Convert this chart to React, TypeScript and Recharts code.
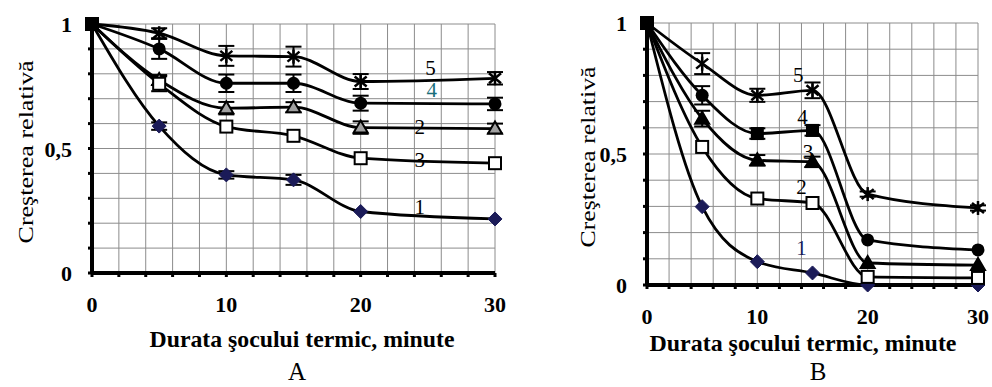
import { LineChart, Line, XAxis, YAxis, CartesianGrid, ErrorBar, ReferenceDot } from 'recharts';

// durata socului termic (minute)
const TIME = [0, 5, 10, 15, 20, 30];
const X_TICKS = [0, 2, 4, 6, 8, 10, 12, 14, 16, 18, 20, 22, 24, 26, 28, 30];
const Y_TICKS = [0, 0.1, 0.2, 0.3, 0.4, 0.5, 0.6, 0.7, 0.8, 0.9, 1];

// panel A
const A_S1 = [1, 0.59, 0.394, 0.374, 0.247, 0.217];
const A_S2 = [1, 0.775, 0.662, 0.666, 0.584, 0.58];
const A_S3 = [1, 0.76, 0.588, 0.551, 0.461, 0.441];
const A_S4 = [1, 0.9, 0.762, 0.762, 0.682, 0.679];
const A_S5 = [1, 0.963, 0.872, 0.869, 0.769, 0.782];
const A_E1 = [0, 0.015, 0.015, 0.02, 0, 0];
const A_E2 = [0, 0.02, 0.025, 0.02, 0.025, 0.02];
const A_E3 = [0, 0.03, 0, 0, 0, 0];
const A_E4 = [0, 0.04, 0.035, 0.035, 0.03, 0.025];
const A_E5 = [0, 0.02, 0.04, 0.04, 0.03, 0.025];

// panel B
const B_S1 = [1, 0.299, 0.089, 0.046, 0, 0];
const B_S2 = [1, 0.527, 0.33, 0.313, 0.031, 0.027];
const B_S3 = [1, 0.635, 0.476, 0.47, 0.084, 0.076];
const B_S4 = [1, 0.724, 0.578, 0.59, 0.172, 0.134];
const B_S5 = [1, 0.845, 0.724, 0.743, 0.347, 0.294];
const B_E1 = [0, 0, 0, 0, 0, 0];
const B_E2 = [0, 0, 0, 0, 0, 0];
const B_E3 = [0, 0.03, 0.02, 0.02, 0, 0];
const B_E4 = [0, 0.035, 0.02, 0.02, 0, 0];
const B_E5 = [0, 0.04, 0.025, 0.03, 0.01, 0.01];

// etichetele curbelor: [text, x, y]
const A_LABELS: [string, number, number][] = [
  ['5', 25.2, 0.825],
  ['4', 25.3, 0.735],
  ['2', 24.4, 0.586],
  ['3', 24.4, 0.454],
  ['1', 24.4, 0.265],
];
const B_LABELS: [string, number, number][] = [
  ['5', 13.7, 0.8],
  ['4', 14.1, 0.641],
  ['3', 14.6, 0.508],
  ['2', 14.0, 0.374],
  ['1', 14.0, 0.141],
];

const buildRows = (s: number[][], e: number[][]) =>
  TIME.map((t, i) => ({
    t,
    s1: s[0][i], s2: s[1][i], s3: s[2][i], s4: s[3][i], s5: s[4][i],
    e1: e[0][i], e2: e[1][i], e3: e[2][i], e4: e[3][i], e5: e[4][i],
  }));

const dataA = buildRows([A_S1, A_S2, A_S3, A_S4, A_S5], [A_E1, A_E2, A_E3, A_E4, A_E5]);
const dataB = buildRows([B_S1, B_S2, B_S3, B_S4, B_S5], [B_E1, B_E2, B_E3, B_E4, B_E5]);

const FONT = 'Liberation Serif, DejaVu Serif, serif';
const NAVY = '#1b1b58';

const marker = (kind: string) => (props: any) => {
  const { cx, cy, index } = props;
  const k = `${kind}-${index}`;
  if (cx == null || cy == null) return <g key={k} />;
  if (index === 0) {
    return <rect key={k} x={cx - 7} y={cy - 7} width={14} height={14} fill="#000" />;
  }
  switch (kind) {
    case 'diamond':
      return (
        <polygon key={k} points={`${cx},${cy - 7} ${cx + 7},${cy} ${cx},${cy + 7} ${cx - 7},${cy}`}
          fill={NAVY} stroke={NAVY} />
      );
    case 'openSquare':
      return <rect key={k} x={cx - 6} y={cy - 6} width={12} height={12} fill="#fff" stroke="#000" strokeWidth={2} />;
    case 'triGray':
    case 'triBlack':
      return (
        <polygon key={k} points={`${cx},${cy - 7} ${cx + 7},${cy + 5} ${cx - 7},${cy + 5}`}
          fill={kind === 'triGray' ? '#a0a0a0' : '#000'} stroke="#000" strokeWidth={2} />
      );
    case 'circle':
      return <circle key={k} cx={cx} cy={cy} r={6.5} fill="#000" />;
    case 'circSq':
      return index === 2 || index === 3
        ? <rect key={k} x={cx - 6.5} y={cy - 6.5} width={13} height={13} fill="#000" />
        : <circle key={k} cx={cx} cy={cy} r={6.5} fill="#000" />;
    case 'star':
    default:
      return (
        <g key={k} stroke="#000" strokeWidth={2.5}>
          <line x1={cx} y1={cy - 7} x2={cx} y2={cy + 7} />
          <line x1={cx - 6} y1={cy - 5} x2={cx + 6} y2={cy + 5} />
          <line x1={cx - 6} y1={cy + 5} x2={cx + 6} y2={cy - 5} />
        </g>
      );
  }
};

const xTick = (props: any) => {
  const { x, y, payload } = props;
  if (payload.value % 10 !== 0) return <g />;
  return (
    <text x={x} y={y} dy={33} textAnchor="middle" style={{ fontFamily: FONT }} fontWeight="bold" fontSize={22} fill="#000">
      {payload.value}
    </text>
  );
};

const yTick = (props: any) => {
  const { x, y, payload } = props;
  const v = Math.round(payload.value * 10) / 10;
  if (v !== 0 && v !== 0.5 && v !== 1) return <g />;
  return (
    <text x={x} y={y} dx={-14} dy={8} textAnchor="end" style={{ fontFamily: FONT }} fontWeight="bold" fontSize={22} fill="#000">
      {v === 0.5 ? '0,5' : String(v)}
    </text>
  );
};

const seriesLabel = (text: string, color: string) => (p: any) => (
  <text x={p.cx} y={p.cy} dy={7} textAnchor="middle" style={{ fontFamily: FONT }} fontSize={21} fill={color}>
    {text}
  </text>
);

type PanelProps = {
  data: any[];
  width: number;
  height: number;
  margin: { top: number; right: number; bottom: number; left: number };
  xAxisHeight: number;
  markers: string[];
  labels: [string, number, number][];
  labelColors: string[];
};

const Panel = ({ data, width, height, margin, xAxisHeight, markers, labels, labelColors }: PanelProps) => {
  const keys = ['s1', 's2', 's3', 's4', 's5'];
  return (
    <LineChart width={width} height={height} data={data} margin={margin}>
      <CartesianGrid stroke="#8c8c8c" strokeWidth={1} />
      <XAxis
        dataKey="t"
        type="number"
        domain={[0, 30]}
        ticks={X_TICKS}
        interval={0}
        height={xAxisHeight}
        axisLine={{ stroke: '#000', strokeWidth: 4 }}
        tickLine={{ stroke: '#000', strokeWidth: 3 }}
        tickSize={4}
        tickMargin={2}
        tick={xTick}
      />
      <YAxis
        type="number"
        domain={[0, 1]}
        ticks={Y_TICKS}
        interval={0}
        width={80}
        axisLine={{ stroke: '#000', strokeWidth: 4 }}
        tickLine={{ stroke: '#000', strokeWidth: 3 }}
        tickSize={4}
        tickMargin={2}
        tick={yTick}
      />
      {keys.map((k, i) => (
        <Line
          key={k}
          type="monotone"
          dataKey={k}
          stroke="#000"
          strokeWidth={2.8}
          dot={marker(markers[i])}
          activeDot={false}
          isAnimationActive={false}
        >
          <ErrorBar dataKey={`e${i + 1}`} width={8} stroke="#000" strokeWidth={2} direction="y" />
        </Line>
      ))}
      {labels.map(([text, x, y], i) => (
        <ReferenceDot key={text} x={x} y={y} r={1} shape={seriesLabel(text, labelColors[i])} />
      ))}
    </LineChart>
  );
};

export default function App() {
  return (
    <div
      style={{
        position: 'absolute',
        left: 0,
        top: 0,
        width: 992,
        height: 387,
        background: '#fff',
        overflow: 'hidden',
        fontFamily: FONT,
      }}
    >
      <div style={{ position: 'absolute', left: 0, top: 0 }}>
        <Panel
          data={dataA}
          width={512}
          height={330}
          margin={{ top: 24, right: 17, bottom: 0, left: 12 }}
          xAxisHeight={57}
          markers={['diamond', 'triGray', 'openSquare', 'circle', 'star']}
          labels={A_LABELS}
          labelColors={['#000', '#1a6f7a', '#000', '#000', '#000']}
        />
      </div>
      <div style={{ position: 'absolute', left: 540, top: 0 }}>
        <Panel
          data={dataB}
          width={452}
          height={345}
          margin={{ top: 23, right: 14, bottom: 0, left: 27 }}
          xAxisHeight={60}
          markers={['diamond', 'openSquare', 'triBlack', 'circSq', 'star']}
          labels={B_LABELS}
          labelColors={['#000', '#000', '#000', '#000', NAVY]}
        />
      </div>
      <svg width={992} height={387} style={{ position: 'absolute', left: 0, top: 0, pointerEvents: 'none', fontFamily: FONT }}>
        <g fill="#000">
          <text x={25} y={152} transform="rotate(-90 25 152)" textAnchor="middle" dominantBaseline="central"
            fontSize={22} textLength={183} lengthAdjust="spacingAndGlyphs">
            Creşterea relativă
          </text>
          <text x={587} y={157} transform="rotate(-90 587 157)" textAnchor="middle" dominantBaseline="central"
            fontSize={22} textLength={181} lengthAdjust="spacingAndGlyphs">
            Creşterea relativă
          </text>
          <text x={302} y={347} textAnchor="middle" fontSize={23} fontWeight="bold"
            textLength={305} lengthAdjust="spacingAndGlyphs">
            Durata şocului termic, minute
          </text>
          <text x={803} y={351} textAnchor="middle" fontSize={23} fontWeight="bold"
            textLength={307} lengthAdjust="spacingAndGlyphs">
            Durata şocului termic, minute
          </text>
          <text x={297} y={380} textAnchor="middle" fontSize={25}>A</text>
          <text x={818} y={380} textAnchor="middle" fontSize={25}>B</text>
        </g>
      </svg>
    </div>
  );
}
